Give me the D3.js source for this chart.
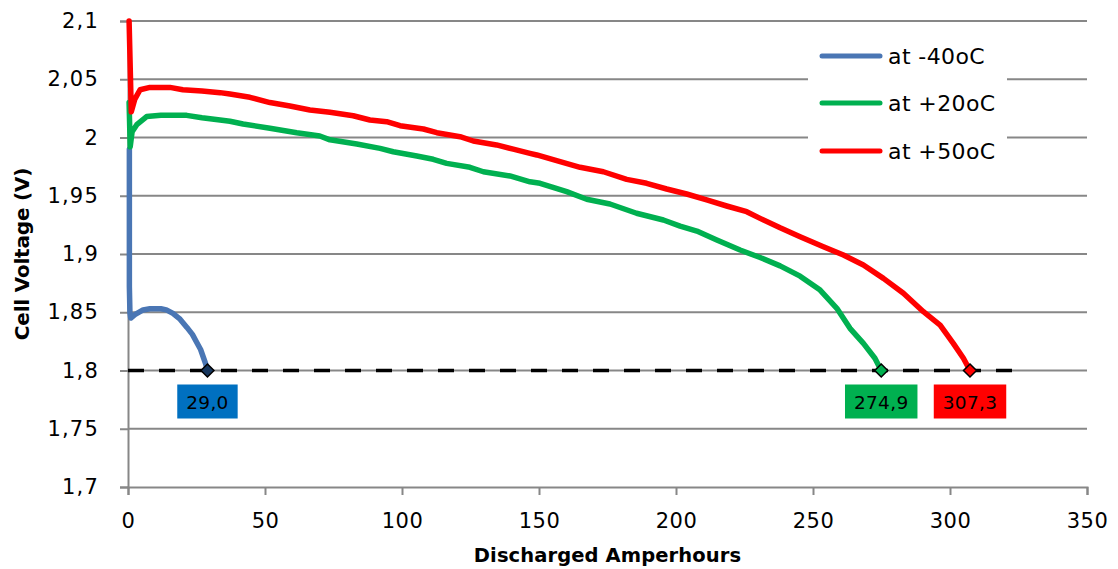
<!DOCTYPE html>
<html><head><meta charset="utf-8">
<script src="https://cdn.jsdelivr.net/npm/d3@7/dist/d3.min.js"></script>
<style>
html,body{margin:0;padding:0;background:#fff;}
svg{display:block;}
text{font-family:"DejaVu Sans",sans-serif;fill:#000;}
</style></head>
<body>
<svg id="c" width="1118" height="569"></svg>
<script>
const xTicks = [0,50,100,150,200,250,300,350];
const yTicks = [1.7,1.75,1.8,1.85,1.9,1.95,2.0,2.05,2.1];
const seriesNames = ["at -40oC","at +20oC","at +50oC"];
const seriesColors = ["#4a76b4","#00b050","#ff0000"];
const markerColors = ["#17375e","#00b050","#ff0000"];
const labelColors = ["#0070c0","#00b050","#ff0000"];

const blueX = [0.5,0.5,0.7,1.0,2.5,5.5,8,12,14,16.4,19,21.5,23.5,25,26.5,27.4,28.3,29.0];
const blueV = [1.99,1.872,1.85,1.845,1.848,1.852,1.853,1.853,1.852,1.849,1.844,1.837,1.831,1.8245,1.818,1.812,1.806,1.80];

const greenX = [0.4,0.8,1.5,3.2,6.8,12,21.4,27,33.6,37.2,42,51.8,61.6,70,73.7,83.5,92,96.8,105.4,111.4,116.3,124.8,129.7,139.4,146.7,150.4,160.1,167.4,175.9,185.6,195.4,201.5,207.6,214.9,223.4,230.7,238,245.3,252.6,258.7,263.5,268.4,272.6,274.9];
const greenV = [2.03,1.992,2.005,2.011,2.018,2.019,2.019,2.017,2.015,2.014,2.0116,2.0079,2.0041,2.0013,1.998,1.9944,1.9907,1.9878,1.9841,1.9813,1.9778,1.9744,1.9706,1.967,1.962,1.9607,1.9535,1.947,1.9429,1.935,1.9292,1.924,1.9197,1.912,1.9034,1.897,1.8898,1.881,1.869,1.8534,1.8362,1.8233,1.8105,1.80];

const redX = [0.4,1.2,2.5,4.4,8,15.3,20,27,33.6,37.2,44.5,51.8,59.1,66.4,73.7,82.2,88.3,94.4,99.3,107.8,112.7,121.2,126,134.5,140.6,146.7,149.2,157.7,165,173.5,182,189.3,196.6,203.9,211.2,218.5,225.8,230.7,238,245.3,253.8,261.1,268.4,275.7,283,290.3,296.4,301.2,304.9,307.3];
const redV = [2.1,2.022,2.033,2.041,2.043,2.043,2.041,2.04,2.0385,2.0373,2.0345,2.030,2.027,2.0236,2.0216,2.0187,2.015,2.0136,2.0101,2.0073,2.0041,2.0007,1.997,1.9936,1.990,1.9864,1.985,1.9792,1.9744,1.9706,1.9641,1.9607,1.9558,1.9515,1.9464,1.9412,1.9363,1.9306,1.9225,1.9149,1.9063,1.8991,1.8906,1.8791,1.8663,1.8505,1.839,1.8233,1.8105,1.80];

const endX = [29.0,274.9,307.3];
const endLabels = ["29,0","274,9","307,3"];
const cutoffV = 1.8;
const cutoffRange = [0,324.5];

const fmt = v => String(v).replace(".", ",");

const svg = d3.select("#c");
const x = d3.scaleLinear().domain([0,350]).range([128,1087]);
const y = d3.scaleLinear().domain([1.7,2.1]).range([487,21]);
const grid = "#878787";

// gridlines
svg.append("g").selectAll("line").data(yTicks.filter(d=>d>1.7)).join("line")
  .attr("x1",x(0)).attr("x2",x(350)).attr("y1",d=>y(d)).attr("y2",d=>y(d))
  .attr("stroke",grid).attr("stroke-width",2);

// y axis
const yAxis = d3.axisLeft(y).tickValues(yTicks).tickSize(8).tickPadding(21).tickFormat(fmt);
const gy = svg.append("g").attr("transform",`translate(${x(0)},0)`).call(yAxis);
gy.select(".domain").attr("stroke",grid).attr("stroke-width",2);
gy.selectAll(".tick line").attr("stroke",grid).attr("stroke-width",2);
gy.selectAll(".tick text").attr("font-size",21).attr("letter-spacing",1.2)
  .attr("font-family","DejaVu Sans").attr("fill","#000");

// x axis
const xAxis = d3.axisBottom(x).tickValues(xTicks).tickSize(8).tickPadding(18).tickFormat(d=>String(d));
const gx = svg.append("g").attr("transform",`translate(0,${y(1.7)})`).call(xAxis);
gx.select(".domain").attr("stroke",grid).attr("stroke-width",2);
gx.selectAll(".tick line").attr("stroke",grid).attr("stroke-width",2);
gx.selectAll(".tick text").attr("font-size",21).attr("letter-spacing",0.5)
  .attr("font-family","DejaVu Sans").attr("fill","#000");

// axis titles
svg.append("text").attr("x",x(175)).attr("y",562).attr("text-anchor","middle")
  .attr("font-size",19.5).attr("font-weight","bold").attr("letter-spacing",0.1)
  .text("Discharged Amperhours");
svg.append("text").attr("transform",`translate(29,${y(1.9)}) rotate(-90)`).attr("text-anchor","middle")
  .attr("font-size",20).attr("font-weight","bold").attr("letter-spacing",-0.2)
  .text("Cell Voltage (V)");

// cutoff dashed line
svg.append("line").attr("x1",x(cutoffRange[0])).attr("x2",x(cutoffRange[1]))
  .attr("y1",y(cutoffV)).attr("y2",y(cutoffV))
  .attr("stroke","#000").attr("stroke-width",3.5).attr("stroke-dasharray","16,15");

// series
const series = [
  {xs:blueX, vs:blueV},
  {xs:greenX, vs:greenV},
  {xs:redX, vs:redV}
];
const line = d3.line().x(d=>x(d[0])).y(d=>y(d[1]));
series.forEach((s,i)=>{
  const pts = s.xs.map((v,j)=>[v,s.vs[j]]);
  svg.append("path").datum(pts).attr("d",line).attr("fill","none")
    .attr("stroke",seriesColors[i]).attr("stroke-width",5.5)
    .attr("stroke-linejoin","round").attr("stroke-linecap","round");
});

// end markers + labels
endX.forEach((ex,i)=>{
  const cx = x(ex), cy = y(cutoffV);
  const r = 6.5;
  svg.append("path").attr("d",`M${cx},${cy-r}L${cx+r},${cy}L${cx},${cy+r}L${cx-r},${cy}Z`)
    .attr("fill",markerColors[i]).attr("stroke","#000").attr("stroke-width",1.5);
  const g = svg.append("g");
  const t = g.append("text").attr("x",cx).attr("y",cy+38).attr("text-anchor","middle")
    .attr("font-size",18.5).attr("letter-spacing",0.3).text(endLabels[i]);
  const bb = t.node().getBBox();
  g.insert("rect","text").attr("x",cx-bb.width/2-9).attr("y",cy+14)
    .attr("width",bb.width+18).attr("height",34).attr("fill",labelColors[i]);
});

// legend
svg.append("rect").attr("x",808).attr("y",30).attr("width",199).attr("height",145).attr("fill","#fff");
const legY = [56,103,151];
seriesNames.forEach((n,i)=>{
  svg.append("line").attr("x1",822).attr("x2",880).attr("y1",legY[i]).attr("y2",legY[i])
    .attr("stroke",seriesColors[i]).attr("stroke-width",5).attr("stroke-linecap","round");
  svg.append("text").attr("x",888).attr("y",legY[i]+8).attr("font-size",22).attr("letter-spacing",0.4).text(n);
});
</script>
</body></html>
